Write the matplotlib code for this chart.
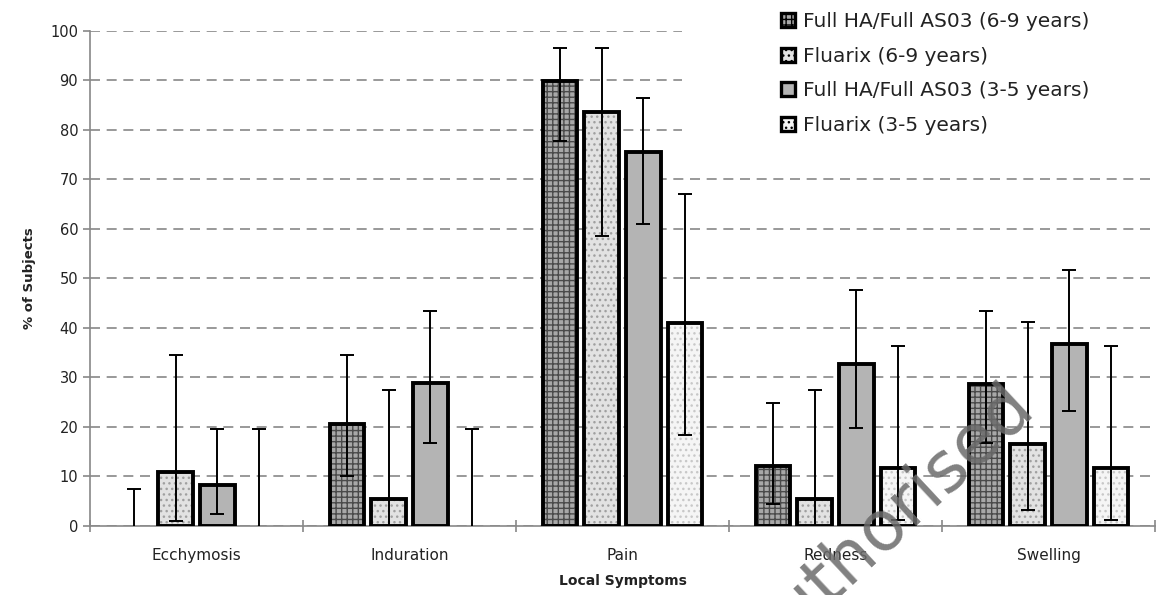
import matplotlib.pyplot as plt
import numpy as np
from matplotlib.patches import Patch, Rectangle

plt.rcParams['font.family'] = ['DejaVu Sans']

categories = ["Ecchymosis", "Induration", "Pain", "Redness", "Swelling"]
series = ["Full HA/Full AS03 (6-9 years)", "Fluarix (6-9 years)",
          "Full HA/Full AS03 (3-5 years)", "Fluarix (3-5 years)"]

# % of subjects, with lower / upper 95% CI limits
values = [
    [0.0, 20.5, 89.8, 12.2, 28.6],
    [11.0, 5.5, 83.6, 5.5, 16.6],
    [8.3, 28.8, 75.6, 32.8, 36.7],
    [0.0, 0.0, 41.1, 11.7, 11.7],
]
ci_low = [
    [0.0, 10.0, 77.8, 4.4, 16.7],
    [1.0, 0.0, 58.6, 0.0, 3.3],
    [2.5, 16.8, 61.0, 19.8, 23.2],
    [0.0, 0.0, 18.3, 1.3, 1.3],
]
ci_high = [
    [7.5, 34.5, 96.5, 24.9, 43.4],
    [34.5, 27.4, 96.5, 27.4, 41.3],
    [19.5, 43.5, 86.5, 47.6, 51.8],
    [19.5, 19.5, 67.0, 36.4, 36.4],
]

faces = ['#a8a8a8', '#e2e2e2', '#b4b4b4', '#f5f5f5']
hatches = ['+++', '...', None, '...']
hatch_cols = ['#4a4a4a', '#a0a0a0', '#b4b4b4', '#c8c8c8']

fig = plt.figure(figsize=(11.66, 5.95), dpi=100)
ax = fig.add_axes([0.0772, 0.116, 0.9134, 0.832])

x = np.arange(len(categories))
step = 0.196
width = 0.162

for i in range(len(series)):
    xs = x + (i - 1.5) * step
    vals = np.array(values[i])
    # fill + hatch
    ax.bar(xs, vals, width, color=faces[i], hatch=hatches[i],
           edgecolor=hatch_cols[i], linewidth=0, zorder=2)
    # thick outline, skip zero bars
    nz = vals > 0
    ax.bar(xs[nz], vals[nz], width, fill=False, edgecolor='black',
           linewidth=2.8, zorder=3)
    lo = np.array(ci_low[i])
    hi = np.array(ci_high[i])
    ax.vlines(xs, lo, hi, color='black', linewidth=1.4, zorder=4)
    ax.plot(xs, hi, linestyle='none', marker='_', markersize=10,
            markeredgewidth=1.4, color='black', zorder=4)
    has_lo = lo > 0
    ax.plot(xs[has_lo], lo[has_lo], linestyle='none', marker='_', markersize=10,
            markeredgewidth=1.4, color='black', zorder=4)

ax.set_xlim(-0.5, len(categories) - 0.5)
ax.set_ylim(0, 100)
ax.set_yticks(np.arange(0, 101, 10))
ax.yaxis.grid(True, linestyle=(0, (6, 4)), color='#888888', linewidth=1.2)
ax.set_axisbelow(True)

# white legend background hides the top gridlines on the right
ax.add_patch(Rectangle((0.556, 0.75), 0.5, 0.3, transform=ax.transAxes,
                       facecolor='white', edgecolor='none', zorder=1.5,
                       clip_on=False))

ax.set_xticks(x)
ax.set_xticklabels(categories, fontsize=11, color='#222222')
ax.tick_params(axis='x', which='major', length=0, pad=16)
ax.set_xticks(np.arange(-0.5, len(categories), 1.0), minor=True)
ax.tick_params(axis='x', which='minor', length=9, direction='inout',
               color='#888888', width=1.2)
ax.tick_params(axis='y', labelsize=10.5, length=5, color='#888888', width=1.2,
               labelcolor='#222222')

for s in ('top', 'right'):
    ax.spines[s].set_visible(False)
for s in ('left', 'bottom'):
    ax.spines[s].set_color('#888888')
    ax.spines[s].set_linewidth(1.2)

ax.set_ylabel("% of Subjects", fontsize=9.5, fontweight='bold', labelpad=10,
              color='#222222')
ax.set_xlabel("Local Symptoms", fontsize=10, fontweight='bold', labelpad=8,
              color='#222222')

handles = [Patch(facecolor=faces[i], hatch=hatches[i], edgecolor='black',
                 linewidth=2.4) for i in range(len(series))]
leg = fig.legend(handles, series, loc='upper left',
                 bbox_to_anchor=(0.656, 1.007), fontsize=14.5, frameon=False,
                 handlelength=0.7, handleheight=0.7, handletextpad=0.4,
                 labelspacing=0.78, borderpad=0.3, labelcolor='#222222')

# watermark
fig.text(0.656, -0.115, "authorised", rotation=43, fontsize=50,
         color='#6a6a6a', alpha=0.85, ha='left', va='baseline',
         rotation_mode='anchor', zorder=10)

fig.savefig("out.png", dpi=100)
